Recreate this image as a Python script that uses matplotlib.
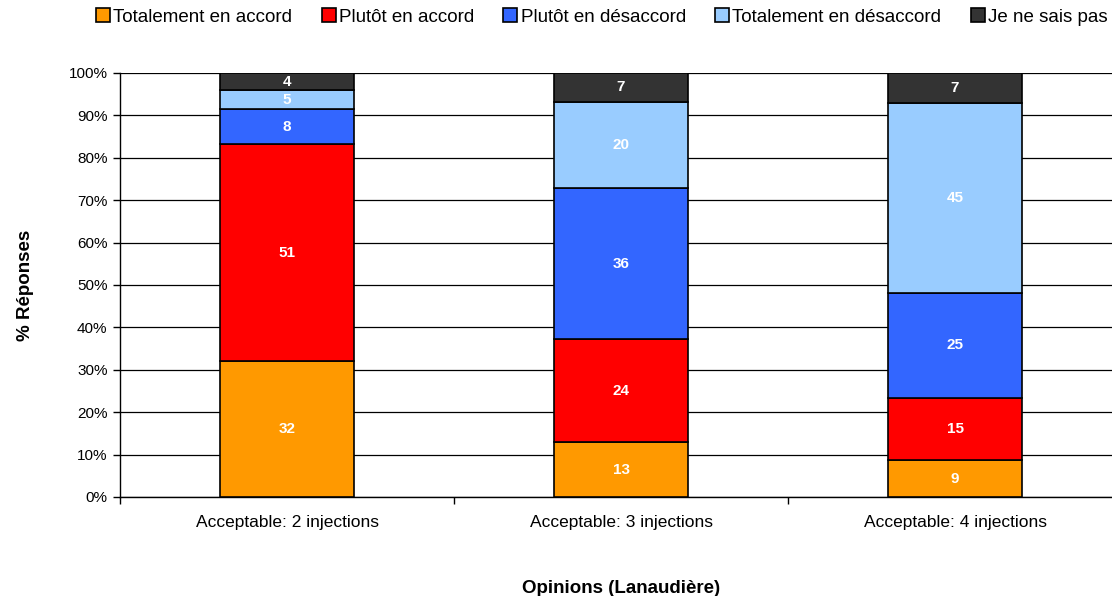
import numpy as np
import matplotlib
matplotlib.use("Agg")
import matplotlib.pyplot as plt

plt.rcParams['font.family'] = ['Liberation Sans', 'DejaVu Sans']

# donnees (% reponses)
categories = ['Acceptable: 2 injections', 'Acceptable: 3 injections', 'Acceptable: 4 injections']
series = ['Totalement en accord', 'Plutôt en accord', 'Plutôt en désaccord',
          'Totalement en désaccord', 'Je ne sais pas']
tot_accord = [32.0, 12.9, 8.7]
plutot_accord = [51.2, 24.3, 14.7]
plutot_desaccord = [8.2, 35.6, 24.7]
tot_desaccord = [4.5, 20.4, 44.8]
ne_sais_pas = [4.1, 6.8, 7.1]
etiquettes = [[32, 13, 9], [51, 24, 15], [8, 36, 25], [5, 20, 45], [4, 7, 7]]
couleurs = ['#FF9900', '#FF0000', '#3366FF', '#99CCFF', '#333333']

valeurs = [tot_accord, plutot_accord, plutot_desaccord, tot_desaccord, ne_sais_pas]

fig = plt.figure(figsize=(11.12, 5.96), dpi=100)
ax = fig.add_axes([120/1112, 1-497/596, 1002/1112, 424/596])

x = np.arange(len(categories))
bas = np.zeros(len(categories))
for i, v in enumerate(valeurs):
    v = np.array(v)
    ax.bar(x, v, 0.4, bottom=bas, color=couleurs[i], edgecolor='black',
           linewidth=1.2, label=series[i], zorder=3)
    for j in range(len(categories)):
        ax.text(x[j], bas[j] + v[j]/2, str(etiquettes[i][j]), ha='center', va='center',
                color='white', fontsize=11, fontweight='bold', zorder=4)
    bas = bas + v

ax.set_xlim(-0.5, 2.5)
ax.set_ylim(0, 100)
ax.set_yticks(np.arange(0, 101, 10))
ax.set_yticklabels([f'{t}%' for t in range(0, 101, 10)], fontsize=11)
ax.yaxis.grid(True, color='black', linewidth=0.9, zorder=0)
ax.set_xticks(x)
ax.set_xticklabels(categories, fontsize=12.5)
ax.tick_params(axis='x', length=0, pad=13)
ax.set_xticks([-0.5, 0.5, 1.5, 2.5], minor=True)
ax.tick_params(axis='x', which='minor', length=5, width=1)
ax.tick_params(axis='y', length=5, width=1, pad=4)
for s in ['top', 'right']:
    ax.spines[s].set_visible(False)
ax.spines['left'].set_linewidth(1)
ax.spines['bottom'].set_linewidth(1)

ax.set_ylabel('% Réponses', fontsize=13.5, fontweight='bold', labelpad=25)
ax.set_xlabel('Opinions (Lanaudière)', fontsize=13.5, fontweight='bold', labelpad=36)

fig.legend(loc='center left', bbox_to_anchor=(96/1112, 1-17/596), ncol=5, frameon=False,
           fontsize=13.5, handlelength=0.75, handleheight=0.75, handletextpad=0.18,
           columnspacing=1.55, borderpad=0, borderaxespad=0)

fig.savefig('out.png', dpi=100)
